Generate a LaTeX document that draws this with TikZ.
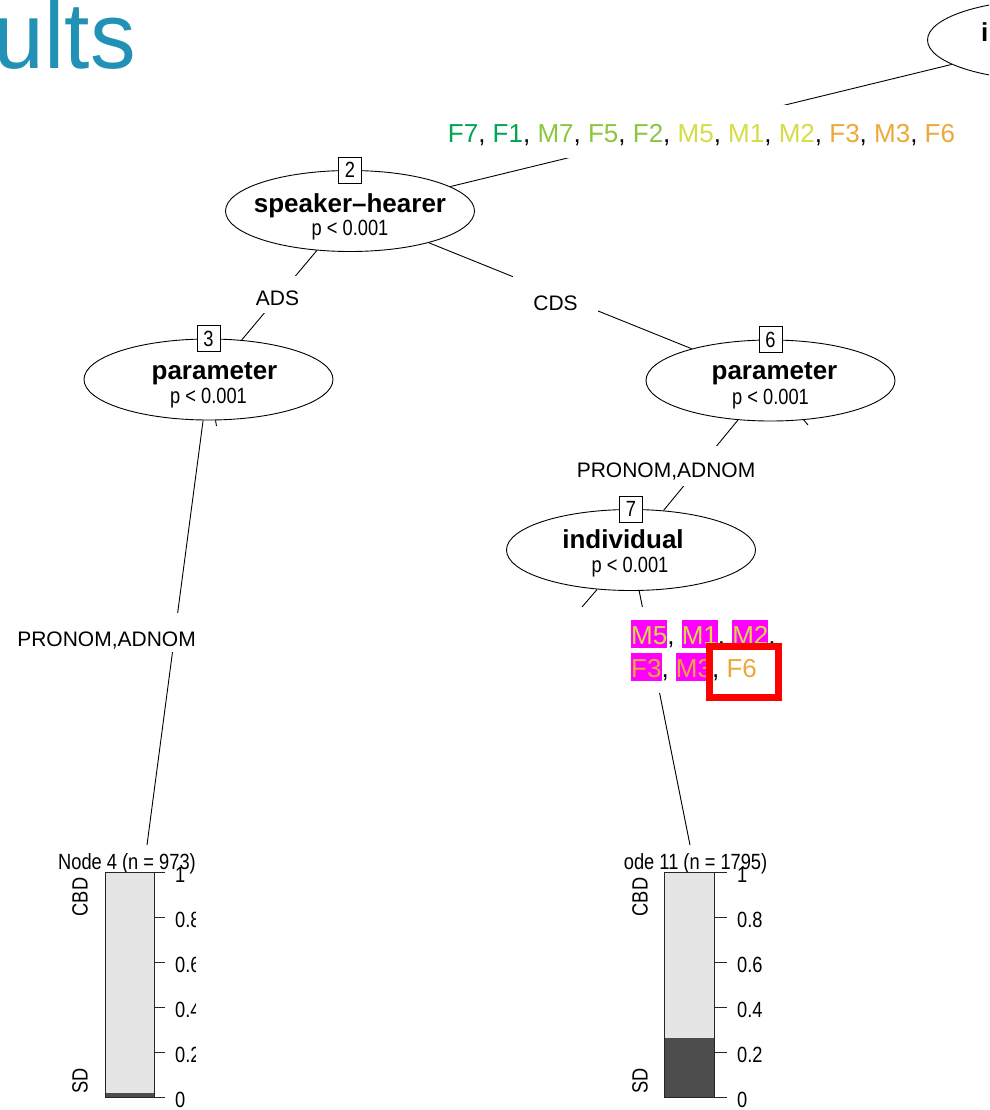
\documentclass[tikz,border=0pt]{standalone}
\usepackage{fontspec}
\setmainfont{Liberation Sans}
\newfontfamily\narrowf[FakeStretch=0.83]{Liberation Sans}
\newfontfamily\titlef[FakeStretch=0.97]{Liberation Sans}
\usetikzlibrary{shapes.geometric,calc}
\definecolor{dgreen}{HTML}{00A651}
\definecolor{lgreen}{HTML}{8CC63F}
\definecolor{ylw}{HTML}{D7DC45}
\definecolor{orng}{HTML}{EEA83A}
\definecolor{ttl}{HTML}{2191B5}
\definecolor{lgray}{HTML}{E5E5E5}
\definecolor{dgray}{HTML}{4D4D4D}
\definecolor{magh}{HTML}{FF00FF}
\newcommand\cdg[1]{\textcolor{dgreen}{#1}}
\newcommand\clg[1]{\textcolor{lgreen}{#1}}
\newcommand\cyl[1]{\textcolor{ylw}{#1}}
\newcommand\cor[1]{\textcolor{orng}{#1}}
\newcommand\hlm[1]{{\setlength{\fboxsep}{0pt}\colorbox{magh}{\rule[-4pt]{0pt}{28.5pt}\textcolor{ylw}{#1}}}}
\newcommand\hlo[1]{{\setlength{\fboxsep}{0pt}\colorbox{magh}{\rule[-4pt]{0pt}{28.5pt}\textcolor{orng}{#1}}}}
\begin{document}
\begin{tikzpicture}[x=1pt,y=-1pt,
  tnode/.style={ellipse, draw, line width=0.9pt, minimum width=249pt, minimum height=81pt, inner sep=0pt},
  numbox/.style={draw, fill=white, line width=0.8pt, font=\narrowf\fontsize{22}{24}\selectfont, minimum width=23pt, minimum height=26pt, inner sep=0pt},
  vname/.style={font=\bfseries\fontsize{26}{30}\selectfont, inner sep=0pt, anchor=base},
  pval/.style={font=\narrowf\fontsize{22}{24}\selectfont, inner sep=0pt, anchor=base},
  elab/.style={fill=white, font=\fontsize{21}{24}\selectfont, inner sep=0pt, anchor=base},
  conn/.style={line width=0.9pt},
  ticklab/.style={font=\narrowf\fontsize{22}{24}\selectfont, inner sep=0pt, anchor=west},
  rotlab/.style={font=\narrowf\fontsize{22}{24}\selectfont, inner sep=0pt, rotate=90},
  bartitle/.style={font=\narrowf\fontsize{22}{24}\selectfont, inner sep=0pt, anchor=base},
  barframe/.style={draw=black!85, line width=0.9pt},
  tickmark/.style={draw=black!85, line width=0.9pt},
  hlline/.style={font=\fontsize{26}{30}\selectfont, inner sep=0pt, anchor=base west}
]
\useasboundingbox (0,0) rectangle (989,1110);
\clip (0,0) rectangle (989,1110);

% title
\node[font=\titlef\fontsize{94}{100}\selectfont, text=ttl, anchor=base east, inner sep=0pt] (title) at (136,69) {ults};

% inner nodes
\node[tnode] (n1) at (1052,40) {};
\node[vname, anchor=base west] (n1t) at (981,42) {individual};
\node[tnode] (n2) at (350,211) {};
\node[tnode] (n3) at (208.5,379.5) {};
\node[tnode] (n6) at (770.5,380.5) {};
\node[tnode] (n7) at (631,550) {};

% terminal / hidden ends
\coordinate (n4) at (147,845);
\coordinate (n11) at (690,845);
\coordinate (n5) at (216.5,426);
\coordinate (n10) at (808,425);
\coordinate (n8) at (582,607);

% edges
\draw[conn] (n1) -- (n2);
\draw[conn] (n2) -- (n3);
\draw[conn] (n2) -- (n6);
\draw[conn] (n3) -- (n4);
\draw[conn] (n3) -- (n5);
\draw[conn] (n6) -- (n7);
\draw[conn] (n6) -- (n10);
\draw[conn] (n7) -- (n8);
\draw[conn] (n7) -- (n11);

% number boxes
\node[numbox] (b2) at (n2.north) {2};
\node[numbox] (b3) at (n3.north) {3};
\node[numbox] (b6) at (n6.north) {6};
\node[numbox] (b7) at (n7.north) {7};

% node texts
\node[vname] (n2t) at ($(n2)+(0,1)$) {speaker–hearer};
\node[pval] (n2p) at ($(n2)+(0,24)$) {p < 0.001};
\node[vname] (n3t) at ($(n3)+(6,0)$) {parameter};
\node[pval] (n3p) at ($(n3)+(0,24)$) {p < 0.001};
\node[vname] (n6t) at ($(n6)+(4,-1.5)$) {parameter};
\node[pval] (n6p) at ($(n6)+(0,23.5)$) {p < 0.001};
\node[vname] (n7t) at ($(n7)+(-8,-2)$) {individual};
\node[pval] (n7p) at ($(n7)+(-1,22)$) {p < 0.001};

% edge labels
\node[elab, font=\fontsize{26}{30}\selectfont, text height=38pt, text depth=15pt] (lab2) at (701.5,143)
  {\cdg{F7}, \cdg{F1}, \clg{M7}, \clg{F5}, \clg{F2}, \cyl{M5}, \cyl{M1}, \cyl{M2}, \cor{F3}, \cor{M3}, \cor{F6}};
\node[elab, text height=29pt, text depth=8pt, minimum width=85pt] (ads) at (277.5,305) {ADS};
\node[elab, text height=34pt, text depth=3pt, minimum width=85pt] (cds) at (555.5,310) {CDS};
\node[elab, text height=31pt, text depth=9pt, minimum width=200pt] (lab7) at (666,477) {PRONOM,ADNOM};
\node[elab, text height=33pt, text depth=6pt, minimum width=190pt] (lab4) at (106.5,646) {PRONOM,ADNOM};

\node[fill=white, minimum width=160pt, minimum height=86pt, inner sep=0pt] (lab11) at (705,650) {};
\node[hlline] (lab11a) at (631,644) {\hlm{M5}, \hlm{M1}, \hlm{M2},};
\node[hlline] (lab11b) at (631,677) {\hlo{F3}, \hlo{M3}, \cor{F6}};
\node[draw=red, line width=7pt, minimum width=69pt, minimum height=51pt, inner sep=0pt] (redbox) at (744,672) {};

% terminal node 4
\node[bartitle] (t4) at (127,869) {Node 4 (n = 973)};
\fill[lgray] (105,872) rectangle (154,1093);
\fill[dgray] (105,1093) rectangle (154,1097);
\draw[barframe] (105,872) rectangle (154,1097);
\foreach \yy/\ll [count=\i] in {872/1, 917/0.8, 962/0.6, 1007/0.4, 1052/0.2, 1097/0} {
  \draw[tickmark] (154,\yy) -- (165,\yy);
  \node[ticklab] (a4\i) at (175,\yy+3) {\ll};
}
\node[rotlab] (cbd4) at (80,897) {CBD};
\node[rotlab] (sd4) at (80,1081) {SD};
\fill[white] (196,878) rectangle (300,1110);

% terminal node 11
\node[bartitle] (t11) at (689,869) {Node 11 (n = 1795)};
\fill[white] (560,846) rectangle (624,878);
\fill[lgray] (664,872) rectangle (714,1038);
\fill[dgray] (664,1038) rectangle (714,1097);
\draw[barframe] (664,872) rectangle (714,1097);
\foreach \yy/\ll [count=\i] in {872/1, 917/0.8, 962/0.6, 1007/0.4, 1052/0.2, 1097/0} {
  \draw[tickmark] (714,\yy) -- (727,\yy);
  \node[ticklab] (a11\i) at (737,\yy+3) {\ll};
}
\node[rotlab] (cbd11) at (640,897) {CBD};
\node[rotlab] (sd11) at (640,1081) {SD};
\end{tikzpicture}
\end{document}
